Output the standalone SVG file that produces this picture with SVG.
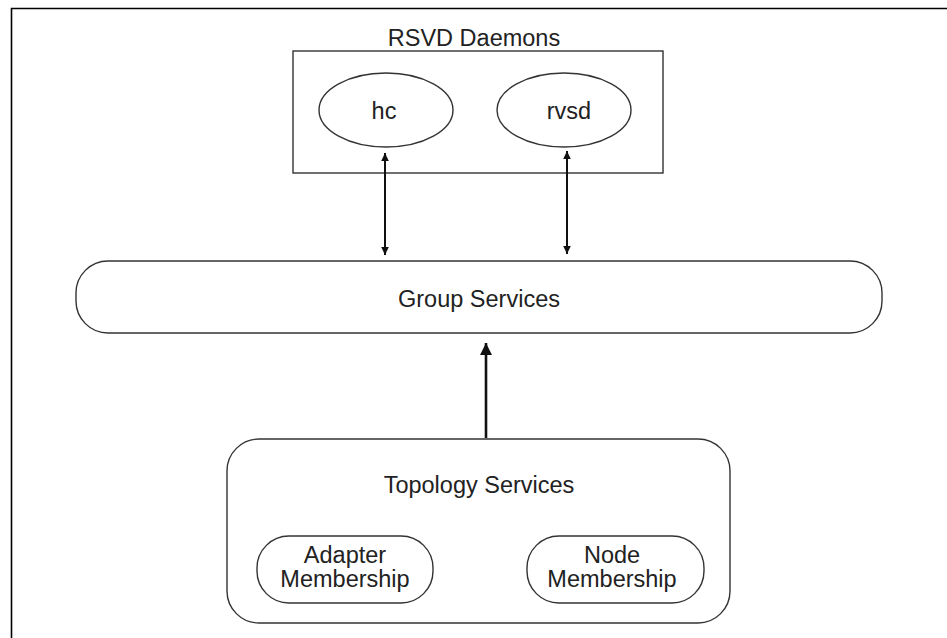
<svg xmlns="http://www.w3.org/2000/svg" width="947" height="638" viewBox="0 0 947 638">
<style>
  text { font-family: "Liberation Sans", Arial, sans-serif; font-size: 23.5px; fill: #222; text-anchor: middle; }
  .shape { fill: none; stroke: #333; stroke-width: 1.4; }
  .conn { stroke: #111; stroke-width: 2; fill: none; }
  .conn2 { stroke: #111; stroke-width: 2.6; fill: none; }
</style>
<defs>
  <marker id="ah" viewBox="0 0 8 10" refX="8" refY="5" markerWidth="8" markerHeight="10" markerUnits="userSpaceOnUse" orient="auto-start-reverse">
    <path d="M0,1.2 L8,5 L0,8.8 Z" fill="#111"/>
  </marker>
  <marker id="ahBig" viewBox="0 0 12 12" refX="12" refY="6" markerWidth="12" markerHeight="12" markerUnits="userSpaceOnUse" orient="auto">
    <path d="M0,0 L12,6 L0,12 Z" fill="#111"/>
  </marker>
</defs>
<rect width="947" height="638" fill="#fff"/>
<path d="M11.5,638 L11.5,8.5 L947,8.5" fill="none" stroke="#000" stroke-width="1.6"/>

<g id="rsvd-daemons">
  <text x="474" y="46">RSVD Daemons</text>
  <rect class="shape" x="293" y="51" width="370" height="122"/>
</g>
<g id="hc">
  <ellipse class="shape" cx="386" cy="110" rx="67" ry="37"/>
  <text x="384" y="119">hc</text>
</g>
<g id="rvsd">
  <ellipse class="shape" cx="564" cy="110" rx="67" ry="37"/>
  <text x="569" y="119">rvsd</text>
</g>
<g id="group-services">
  <rect class="shape" x="76" y="261" width="806" height="72" rx="32" ry="32"/>
  <text x="479" y="307">Group Services</text>
</g>
<g id="topology-services">
  <rect class="shape" x="227" y="439" width="503" height="184" rx="32" ry="32"/>
  <text x="479" y="493">Topology Services</text>
</g>
<g id="adapter-membership">
  <rect class="shape" x="257" y="536" width="176" height="67" rx="32" ry="32"/>
  <text x="345" y="563">Adapter</text>
  <text x="345" y="587">Membership</text>
</g>
<g id="node-membership">
  <rect class="shape" x="527" y="536" width="177" height="67" rx="32" ry="32"/>
  <text x="612" y="563">Node</text>
  <text x="612" y="587">Membership</text>
</g>

<g id="connectors">
  <line class="conn" x1="385" y1="153" x2="385" y2="255" marker-start="url(#ah)" marker-end="url(#ah)"/>
  <line class="conn" x1="567" y1="151" x2="567" y2="254" marker-start="url(#ah)" marker-end="url(#ah)"/>
  <line class="conn2" x1="486" y1="438" x2="486" y2="343" marker-end="url(#ahBig)"/>
</g>
</svg>
